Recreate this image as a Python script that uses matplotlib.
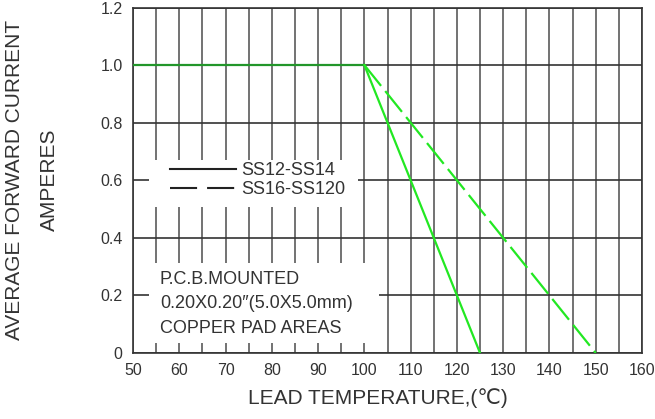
import numpy as np
import matplotlib
matplotlib.use('Agg')
import matplotlib.pyplot as plt
from matplotlib.patches import Rectangle
from matplotlib.lines import Line2D

plt.rcParams['font.family'] = ['Liberation Sans', 'DejaVu Sans']

# derating curves
temp_solid = [50, 100, 125]
current_solid = [1.0, 1.0, 0.0]
temp_dashed = [100, 150]
current_dashed = [1.0, 0.0]

x_ticks = np.arange(50, 161, 10)
x_grid = np.arange(50, 161, 5)
y_ticks = [0, 0.2, 0.4, 0.6, 0.8, 1.0, 1.2]
y_labels = ['0', '0.2', '0.4', '0.6', '0.8', '1.0', '1.2']

legend_names = ['SS12-SS14', 'SS16-SS120']
note_lines = ['P.C.B.MOUNTED', '0.20X0.20\u2033(5.0X5.0mm)', 'COPPER PAD AREAS']

txt = '#333333'
green = '#22e822'

fig = plt.figure(figsize=(6.55, 4.19), dpi=100)
ax = fig.add_axes([133 / 655, 1 - 353 / 419, (642 - 133) / 655, (353 - 7.5) / 419])

ax.set_xlim(50, 160)
ax.set_ylim(0, 1.2)

# grid: verticals every 5, horizontals every 0.2
ax.set_xticks(x_grid, minor=True)
ax.set_xticks(x_ticks)
ax.set_xticklabels([str(v) for v in x_ticks])
ax.set_yticks(y_ticks)
ax.set_yticklabels(y_labels)
ax.set_axisbelow(True)
ax.grid(axis='x', which='both', color='#5a5a5a', lw=1.2)
ax.grid(axis='y', which='major', color='#333333', lw=1.2)
ax.tick_params(which='both', length=0, labelsize=11.5, colors=txt)
ax.tick_params(axis='y', pad=7.5)
ax.tick_params(axis='x', pad=7)
for s in ax.spines.values():
    s.set_color('#333333')
    s.set_linewidth(1.2)

# white boxes behind legend and note (they break the grid)
ax.add_patch(Rectangle((53.5, 0.507), 98.7 - 53.5, 0.670 - 0.507,
                       facecolor='white', edgecolor='none', zorder=1))
ax.add_patch(Rectangle((53.5, 0.035), 103.1 - 53.5, 0.3125 - 0.035,
                       facecolor='white', edgecolor='none', zorder=1))

# curves
ax.plot(temp_solid[:2], current_solid[:2], color='#22962a', lw=1.6, zorder=3)
ax.plot(temp_solid[1:], current_solid[1:], color=green, lw=1.6, zorder=3)
ax.plot(temp_dashed, current_dashed, color=green, lw=1.6, dashes=(12, 3), zorder=3)

# legend (black samples)
handles = [Line2D([], [], color='#222222', lw=1.5),
           Line2D([], [], color='#222222', lw=1.5, dashes=(13, 4.8))]
leg = ax.legend(handles, legend_names, loc='upper left',
                bbox_to_anchor=(0.072, 0.553), frameon=False, fontsize=13,
                handlelength=3.7, handletextpad=0.28, labelspacing=0.13,
                borderpad=0, borderaxespad=0)
for t in leg.get_texts():
    t.set_color(txt)
leg.set_zorder(4)

for i, line in enumerate(note_lines):
    ax.text(55.8, 0.2536 - i * 0.0834, line, fontsize=13, color=txt,
            va='center', ha='left', zorder=4)

fig.text(378 / 655, 1 - 398 / 419, 'LEAD TEMPERATURE,(\u2103)', fontsize=15,
         color=txt, ha='center', va='center')
fig.text(15 / 655, 1 - 180 / 419, 'AVERAGE FORWARD CURRENT', rotation=90,
         fontsize=15, color=txt, ha='center', va='center')
fig.text(49 / 655, 1 - 180 / 419, 'AMPERES', rotation=90,
         fontsize=15, color=txt, ha='center', va='center')

fig.savefig('out.png', dpi=100)
